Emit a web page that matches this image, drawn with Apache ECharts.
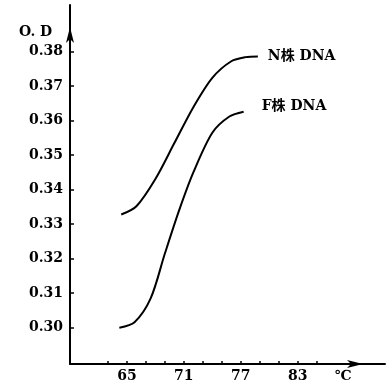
<!DOCTYPE html>
<html>
<head>
<meta charset="utf-8">
<script src="https://cdn.jsdelivr.net/npm/echarts@6/dist/echarts.min.js"></script>
<style>html,body{margin:0;padding:0;background:#fff}#c{width:390px;height:390px}</style>
</head>
<body>
<div id="c"></div>
<script>
// Temperature (°C) and optical density
var nTemp = [64.4, 66.0, 68.0, 70.0, 72.0, 74.0, 76.0, 77.5, 78.8];
var nOD   = [0.3328, 0.3352, 0.3431, 0.3535, 0.3639, 0.3724, 0.3772, 0.3784, 0.3786];
var fTemp = [64.2, 65.8, 67.5, 69.0, 70.5, 72.0, 74.0, 75.8, 77.3];
var fOD   = [0.3000, 0.3016, 0.3085, 0.3215, 0.3340, 0.3450, 0.3565, 0.3612, 0.3626];
var seriesNames = ['N株 DNA', 'F株 DNA'];
var xTickLabels = [65, 71, 77, 83];
var xMinorTicks = [63, 65, 67, 69, 71, 73, 75, 77, 79, 81, 83, 85];
var yTickLabels = [0.30, 0.31, 0.32, 0.33, 0.34, 0.35, 0.36, 0.37, 0.38];
var xUnitPos = 87.8;
var xUnit = '℃';
var yName = 'O. D';

function zip(a, b) { return a.map(function (v, i) { return [v, b[i]]; }); }

var font = "'DejaVu Serif', 'Noto Sans CJK SC', serif";
var chart = echarts.init(document.getElementById('c'));
chart.setOption({
  animation: false,
  backgroundColor: '#fff',
  title: {
    text: yName, left: 14, top: 20,
    textStyle: { fontFamily: font, fontSize: 14, fontWeight: 'bold', color: '#000' }
  },
  grid: { left: 70, right: 5, top: 5, bottom: 26 },
  xAxis: {
    type: 'value', min: 59, max: 92.2,
    splitLine: { show: false },
    axisLine: { lineStyle: { color: '#000', width: 2 }, symbol: ['none', 'arrow'], symbolSize: [6, 16], symbolOffset: [0, -22] },
    axisTick: { inside: true, length: 3, lineStyle: { color: '#000', width: 1.5 }, customValues: xMinorTicks },
    axisLabel: {
      customValues: xTickLabels.concat([xUnitPos]),
      formatter: function (v) { return v > 85 ? xUnit : String(v); },
      fontFamily: font, fontSize: 14, fontWeight: 'bold', color: '#000', margin: 5
    }
  },
  yAxis: {
    type: 'value', min: 0.2895, max: 0.3935,
    splitLine: { show: false },
    axisLine: { lineStyle: { color: '#000', width: 2 }, symbol: ['none', 'arrow'], symbolSize: [6, 16], symbolOffset: [0, -22] },
    axisTick: { inside: true, length: 4, lineStyle: { color: '#000', width: 1.5 }, customValues: yTickLabels },
    axisLabel: {
      customValues: yTickLabels,
      formatter: function (v) { return v.toFixed(2); },
      fontFamily: font, fontSize: 14, fontWeight: 'bold', color: '#000', margin: 7
    }
  },
  series: [
    {
      name: seriesNames[0], type: 'line', smooth: 0.3, showSymbol: false,
      data: zip(nTemp, nOD),
      lineStyle: { color: '#000', width: 2 },
      endLabel: { show: true, formatter: '{a}', distance: 10, offset: [0, 0],
        fontFamily: font, fontSize: 14, fontWeight: 'bold', color: '#000' }
    },
    {
      name: seriesNames[1], type: 'line', smooth: 0.3, showSymbol: false,
      data: zip(fTemp, fOD),
      lineStyle: { color: '#000', width: 2 },
      endLabel: { show: true, formatter: '{a}', distance: 18, offset: [0, -5],
        fontFamily: font, fontSize: 14, fontWeight: 'bold', color: '#000' }
    }
  ]
});
</script>
</body>
</html>
